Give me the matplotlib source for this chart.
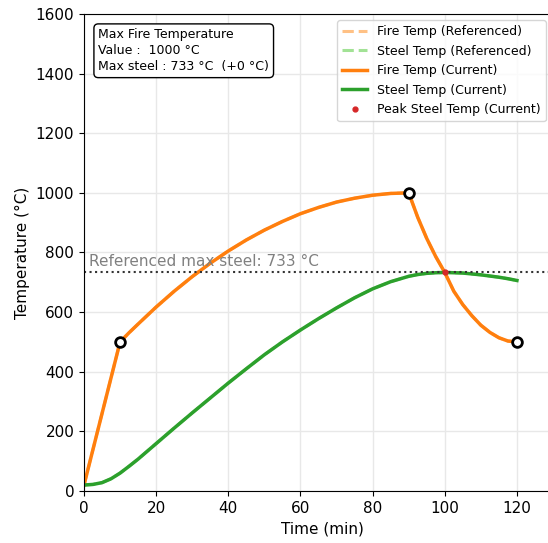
import matplotlib
matplotlib.use("Agg")
from matplotlib import pyplot as plt

# time axis (min) and temperatures
times = [0, 2.5, 5, 7.5, 10, 12.5, 15, 20, 25, 30, 35, 40, 45, 50, 55, 60, 65, 70, 75, 80, 85, 90,
         92.5, 95, 97.5, 100, 102.5, 105, 107.5, 110, 112.5, 115, 117.5, 120]
fireTemps = [20, 140, 260, 380, 500, 531, 560, 617, 670, 719, 764, 805, 842, 875, 904, 930, 951, 969, 982, 992, 998, 1000,
             918, 847, 786, 733, 670, 625, 588, 556, 532, 514, 503, 500]
steelTemps = [20, 22, 28, 41, 60, 83, 107, 159, 211, 262, 312, 362, 410, 457, 500, 540, 578, 614, 648, 678, 702, 720,
              726, 730, 732, 733, 732, 731, 728, 725, 721, 717, 712, 706]

keyTimes = [10, 90, 120]
keyTemps = [500, 1000, 500]
peakTime = 100
peakSteel = 733
refMaxSteel = 733
maxFire = 1000

fig = plt.figure(figsize=(5.48, 5.43), dpi=100)
ax = fig.add_axes([0.1533, 0.0958, 0.869, 0.8785])

ax.plot(times, fireTemps, "--", color="#ffbb78", lw=2.2, alpha=0.9, label="Fire Temp (Referenced)")
ax.plot(times, steelTemps, "--", color="#98df8a", lw=2.2, alpha=0.9, label="Steel Temp (Referenced)")
ax.plot(times, fireTemps, color="#ff7f0e", lw=2.5, label="Fire Temp (Current)")
ax.plot(times, steelTemps, color="#2ca02c", lw=2.5, label="Steel Temp (Current)")
ax.plot(keyTimes, keyTemps, "o", ms=7, mfc="white", mec="black", mew=2, zorder=5)
ax.plot([peakTime], [peakSteel], "o", color="#d62728", ms=3.5, ls="none", zorder=6,
        label="Peak Steel Temp (Current)")

ax.axhline(refMaxSteel, color="#333333", ls=":", lw=1.5)
ax.text(1.5, refMaxSteel + 12, "Referenced max steel: %d °C" % refMaxSteel,
        color="gray", fontsize=11, va="bottom")

ax.text(0.03, 0.97, "Max Fire Temperature\nValue :  %d °C\nMax steel : %d °C  (+%d °C)"
        % (maxFire, peakSteel, peakSteel - refMaxSteel),
        transform=ax.transAxes, fontsize=9, va="top", ha="left", linespacing=1.3,
        bbox=dict(boxstyle="round,pad=0.35", fc="white", ec="black", lw=1))

ax.set_xlim(0, 132)
ax.set_ylim(0, 1600)
ax.set_xticks([0, 20, 40, 60, 80, 100, 120])
ax.grid(True, color="#e8e8e8", lw=1)
ax.set_axisbelow(True)
ax.tick_params(labelsize=11)
ax.set_xlabel("Time (min)", fontsize=11)
ax.set_ylabel("Temperature (°C)", fontsize=11)
ax.legend(loc="upper right", bbox_to_anchor=(0.983, 1.0), fontsize=9, labelspacing=0.52,
          framealpha=0.8)

fig.savefig("out.png", dpi=100)
